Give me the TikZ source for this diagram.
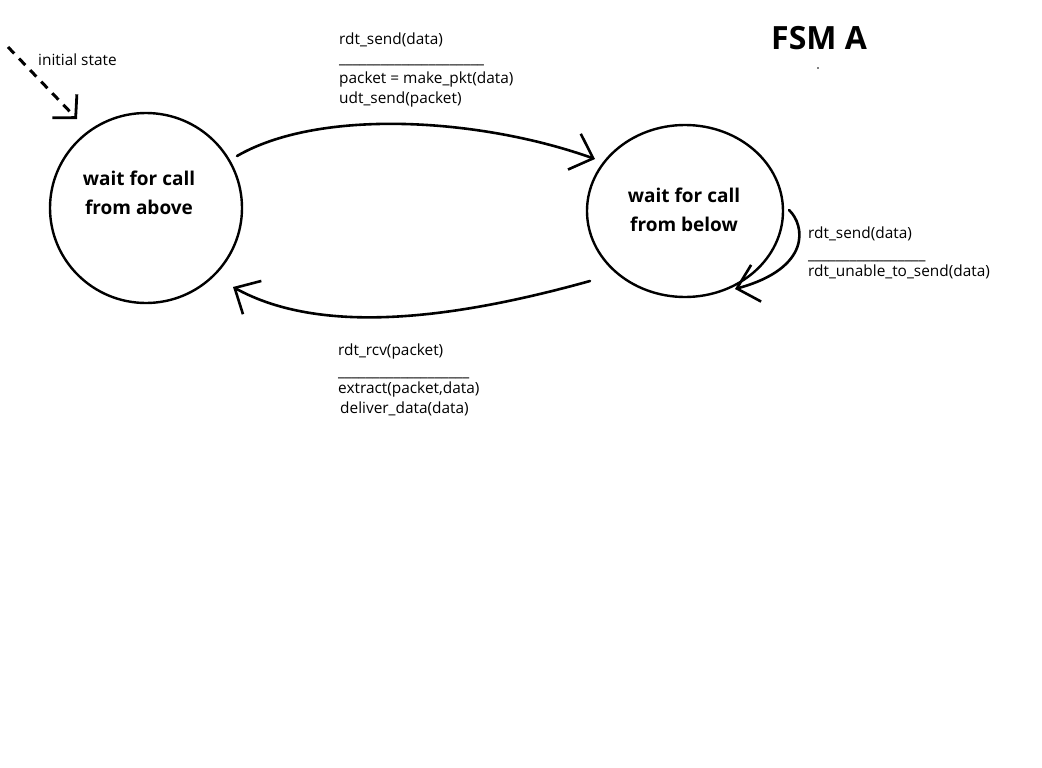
\documentclass[tikz,border=0pt]{standalone}
\usepackage{fontspec}
\setmainfont{Open Sans}
\usetikzlibrary{arrows.meta,shapes.geometric}
\begin{document}
\begin{tikzpicture}[x=1pt,y=-1pt,
  state/.style={draw, line width=2.4pt, ellipse, inner sep=0pt},
  stxt/.style={font=\fontsize{19}{29}\selectfont\bfseries, align=center, inner sep=0pt},
  lbl/.style={font=\fontsize{15.4}{18}\selectfont, anchor=base west, inner sep=0pt},
  conn/.style={line width=2.6pt, line cap=round,
    -{Straight Barb[length=20pt,width=38pt,line width=2.6pt]}}]
\useasboundingbox (0,0) rectangle (1042,768);
\fill[white] (0,0) rectangle (1042,768);

% states
\node[state, minimum width=192pt, minimum height=190pt] (A) at (146,208) {};
\node[state, minimum width=196pt, minimum height=172pt] (B) at (685,211) {};
\node[stxt] (At) at (139,193) {wait for call\\from above};
\node[stxt] (Bt) at (684,210) {wait for call\\from below};

% title
\node[font=\fontsize{32}{36}\selectfont\bfseries, anchor=base west, inner sep=0pt] (title) at (771,50) {FSM A};
\fill (818,68) circle (0.8pt);

% initial arrow
\coordinate (init) at (8,47);
\draw[line width=3pt, dash pattern=on 9pt off 7pt,
  -{Straight Barb[length=16pt,width=34pt,line width=2.8pt]}]
  (init) -- ([shift={(-69,-89)}]A.center);
\node[lbl] (initl) at (38,66) {initial state};

% transitions
\draw[conn] ([shift={(91,-52)}]A.center)
  .. controls (320,108) and (480,118) .. ([shift={(-90,-52)}]B.center);
\draw[conn] ([shift={(-95,70)}]B.center)
  .. controls (450,320) and (320,335) .. ([shift={(87,79)}]A.center);
\draw[conn] ([shift={(104,-1)}]B.center)
  .. controls (805,225) and (812,268) .. ([shift={(50,78)}]B.center);

% labels
\node[lbl] (l1a) at (339,45) {rdt\_send(data)};
\node[lbl] (l1b) at (339,64) {\_\_\_\_\_\_\_\_\_\_\_\_\_\_\_\_\_\_\_\_\_};
\node[lbl] (l1c) at (339,84) {packet = make\_pkt(data)};
\node[lbl] (l1d) at (339,103) {udt\_send(packet)};

\node[lbl] (l2a) at (338,355) {rdt\_rcv(packet)};
\node[lbl] (l2b) at (338,376) {\_\_\_\_\_\_\_\_\_\_\_\_\_\_\_\_\_\_\_};
\node[lbl] (l2c) at (338,393) {extract(packet,data)};
\node[lbl] (l2d) at (340,413) {deliver\_data(data)};

\node[lbl] (l3a) at (808,238) {rdt\_send(data)};
\node[lbl] (l3b) at (808,259) {\_\_\_\_\_\_\_\_\_\_\_\_\_\_\_\_\_};
\node[lbl] (l3c) at (808,276) {rdt\_unable\_to\_send(data)};
\end{tikzpicture}
\end{document}
